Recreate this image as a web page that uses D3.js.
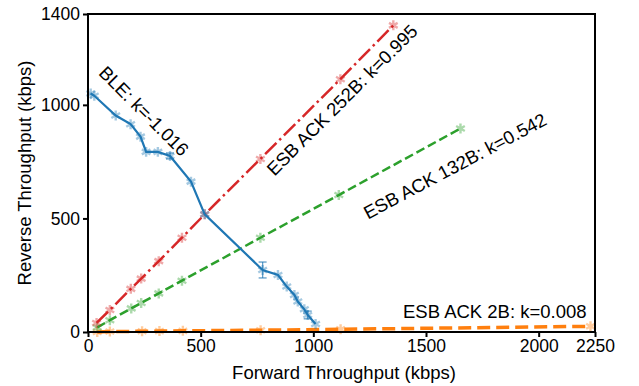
<!DOCTYPE html>
<html><head><meta charset="utf-8">
<script src="https://cdn.jsdelivr.net/npm/d3@7"></script>
<style>body{margin:0;background:#fff}svg{display:block}text{font-family:"Liberation Sans",Arial,sans-serif}</style>
</head><body><svg id="c" width="639" height="386"></svg>
<script>
// Data
const bleX = [12, 28, 123, 189, 233, 258, 310, 364, 457, 518, 775, 843, 882, 916, 931, 960, 975, 1010];
const bleY = [1050, 1040, 953, 915, 860, 793, 793, 775, 662, 518, 273, 251, 200, 163, 134, 100, 75, 35];
const bleErr = [0, 0, 0, 0, 0, 0, 0, 13, 0, 0, 35, 0, 0, 0, 0, 0, 17, 0];
const ack252X = [38, 97, 190, 236, 314, 417, 518, 765, 1120, 1355];
const ack252Y = [40, 97, 190, 235, 312, 415, 518, 762, 1113, 1350];
const ack132X = [41, 97, 192, 236, 314, 417, 765, 1113, 1653];
const ack132Y = [20, 52, 104, 128, 170, 226, 415, 603, 896];
const ack2X = [41, 97, 240, 317, 421, 766, 1121, 2230];
const ack2Y = [0, 2, 3, 4, 5, 8, 12, 25];
const xTicks = [0, 500, 1000, 1500, 2000, 2250];
const yTicks = [0, 500, 1000, 1400];
const labels = [
  {text: "BLE: k=-1.016", x: 144, y: 111, rot: 45, anchor: "middle"},
  {text: "ESB ACK 252B: k=0.995", x: 342, y: 100, rot: -45, anchor: "middle"},
  {text: "ESB ACK 132B: k=0.542", x: 455, y: 166, rot: -28, anchor: "middle"},
  {text: "ESB ACK 2B: k=0.008", x: 403, y: 318, rot: 0, anchor: "start"}
];

const svg = d3.select("#c");
const L = 88, R = 595, T = 14, B = 332;
const x = d3.scaleLinear().domain([0, 2250]).range([L, R]);
const y = d3.scaleLinear().domain([0, 1400]).range([B, T]);
const g = svg.append("g");

function series(xs, ys, color, dash, width) {
  const pts = xs.map((v, i) => [v, ys[i]]);
  g.append("path").datum(pts)
    .attr("fill", "none").attr("stroke", color).attr("stroke-width", width)
    .attr("stroke-dasharray", dash)
    .attr("d", d3.line().x(d => x(d[0])).y(d => y(d[1])));
  const sym = d3.symbol().type(d3.symbolAsterisk).size(70);
  g.selectAll(null).data(pts).enter().append("path")
    .attr("d", sym).attr("transform", d => `translate(${x(d[0])},${y(d[1])})`)
    .attr("fill", "none").attr("stroke", color).attr("stroke-width", 2.4).attr("opacity", 0.4);
}
series(ack2X, ack2Y, "#ff7f0e", "13,6", 3.5);
series(ack132X, ack132Y, "#2ca02c", "9,4", 2.5);
series(ack252X, ack252Y, "#d62728", "16,4,2.5,4", 2.5);
series(bleX, bleY, "#1f77b4", null, 2.2);

// error bars for BLE
bleX.forEach((v, i) => {
  const e = bleErr[i];
  if (!e) return;
  const cx = x(v);
  g.append("line").attr("x1", cx).attr("x2", cx).attr("y1", y(bleY[i] - e)).attr("y2", y(bleY[i] + e))
    .attr("stroke", "#1f77b4").attr("stroke-width", 1.3).attr("opacity", 0.7);
  [bleY[i] - e, bleY[i] + e].forEach(vv => {
    g.append("line").attr("x1", cx - 4).attr("x2", cx + 4).attr("y1", y(vv)).attr("y2", y(vv))
      .attr("stroke", "#1f77b4").attr("stroke-width", 1.3).attr("opacity", 0.7);
  });
});

// frame
svg.append("rect").attr("x", L).attr("y", T).attr("width", R - L).attr("height", B - T)
  .attr("fill", "none").attr("stroke", "#000").attr("stroke-width", 2);

const xa = svg.append("g").attr("transform", `translate(0,${B})`)
  .call(d3.axisBottom(x).tickValues(xTicks).tickSize(5).tickPadding(3).tickFormat(d3.format("d")));
const ya = svg.append("g").attr("transform", `translate(${L},0)`)
  .call(d3.axisLeft(y).tickValues(yTicks).tickSize(5).tickPadding(3).tickFormat(d3.format("d")));
[xa, ya].forEach(a => {
  a.select(".domain").remove();
  a.selectAll(".tick line").attr("stroke", "#000").attr("stroke-width", 2);
  a.selectAll(".tick text").attr("font-size", 17.5).attr("fill", "#000")
    .attr("font-family", '"Liberation Sans",Arial,sans-serif');
});

svg.append("text").attr("x", 344).attr("y", 379).attr("text-anchor", "middle")
  .attr("font-size", 18.5).text("Forward Throughput (kbps)");
svg.append("text").attr("transform", `translate(31,${(T + B) / 2}) rotate(-90)`).attr("text-anchor", "middle")
  .attr("font-size", 18.5).text("Reverse Throughput (kbps)");

labels.forEach(l => {
  svg.append("text").attr("transform", `translate(${l.x},${l.y}) rotate(${l.rot})`)
    .attr("text-anchor", l.anchor).attr("dominant-baseline", l.rot ? "central" : "alphabetic")
    .attr("font-size", 18.5).attr("fill", "#000").text(l.text);
});
</script></body></html>
